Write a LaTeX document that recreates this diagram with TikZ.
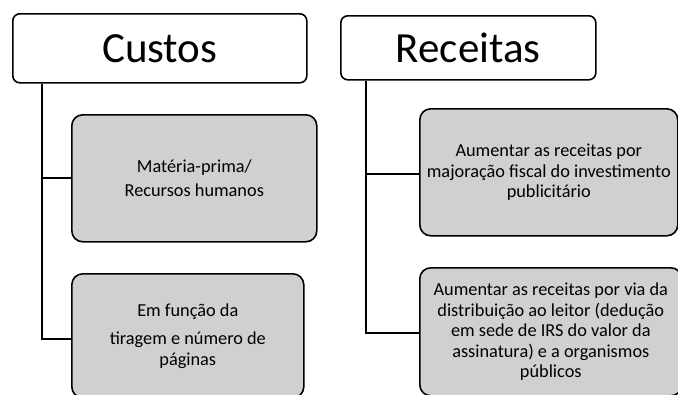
\documentclass[tikz,border=0pt]{standalone}
\usepackage{fontspec}
\setmainfont{Carlito}
\begin{document}
\begin{tikzpicture}[x=1pt,y=-1pt,
  head/.style={draw=black,line width=1.6pt,rounded corners=7pt,fill=white,inner sep=0pt,anchor=north west,font=\fontsize{43}{48}\selectfont},
  item/.style={draw=black,line width=1.6pt,rounded corners=11pt,fill=itemgray,inner sep=0pt,anchor=north west,align=center,font=\fontsize{18.3}{20.5}\selectfont},
  link/.style={draw=black,line width=2pt}]
\definecolor{itemgray}{HTML}{D0D0D0}
\useasboundingbox (0,0) rectangle (678,394);
% headers
\node[head,minimum width=294pt,minimum height=69pt] (custos) at (12,13) {Custos};
\node[head,minimum width=255pt,minimum height=64pt] (receitas) at (340,15) {Receitas};
% items
\node[item,minimum width=245pt,minimum height=127pt] (mat) at (71,114) {\\[-8pt]Matéria-prima/\\[4pt]Recursos humanos};
\node[item,minimum width=232pt,minimum height=124pt] (fun) at (71,273) {Em função da\\[8pt]tiragem e número de\\páginas};
\node[item,minimum width=258pt,minimum height=127pt] (maj) at (419,108) {Aumentar as receitas por\\majoração fiscal do investimento\\publicitário};
\node[item,minimum width=262pt,minimum height=128pt] (dist) at (419,267) {Aumentar as receitas por via da\\distribuição ao leitor (dedução\\em sede de IRS do valor da\\assinatura) e a organismos\\públicos};
% connectors
\coordinate (cL) at ([xshift=30pt]custos.south west);
\coordinate (rL) at ([xshift=26pt]receitas.south west);
\draw[link] (cL) |- (mat.west);
\draw[link] (cL) |- ([yshift=-3pt]fun.west);
\draw[link] (rL) |- ([yshift=-2pt]maj.west);
\draw[link] (rL) |- ([yshift=-1pt]dist.west);
\end{tikzpicture}
\end{document}
